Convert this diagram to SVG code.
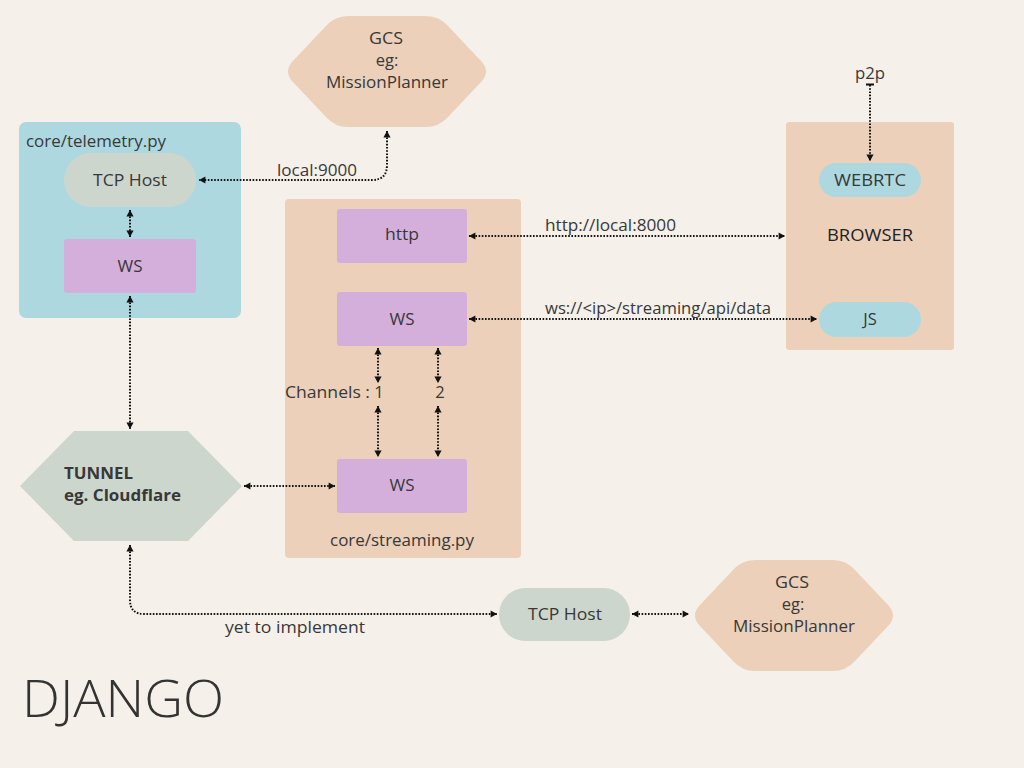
<svg xmlns="http://www.w3.org/2000/svg" width="1024" height="768" viewBox="0 0 1024 768">
<defs>
<marker id="ah" viewBox="0 0 10 10" refX="9" refY="5" markerWidth="8" markerHeight="8" markerUnits="userSpaceOnUse" orient="auto-start-reverse">
<path d="M1,0.5 L9,5 L1,9.5 Z" fill="#111"/>
</marker>
<path id="hexr" d="M348,16 L426,16 Q439,16 448,26 L482,62 Q490,71.5 482,81 L448,117 Q439,127 426,127 L348,127 Q335,127 326,117 L292,81 Q284,71.5 292,62 L326,26 Q335,16 348,16 Z"/>
</defs>
<style>
text{font-family:"Open Sans","Noto Sans","Liberation Sans",sans-serif;font-size:16.5px;fill:#383838}
.c{text-anchor:middle}
.blue{fill:#ADD8E0}
.peach{fill:#ECD0B9}
.purple{fill:#D4AFDB}
.grey{fill:#CDD6CC}
.ln{fill:none;stroke:#111;stroke-width:2;stroke-dasharray:1.6 1.6;marker-start:url(#ah);marker-end:url(#ah)}
</style>
<rect width="1024" height="768" fill="#F5F0EA"/>

<g id="telemetry-box">
<rect x="19" y="122" width="222" height="196" rx="7" class="blue"/>
<text x="26" y="147" textLength="140" lengthAdjust="spacingAndGlyphs">core/telemetry.py</text>
</g>
<g id="tcp-host-1">
<rect x="64" y="153" width="132" height="54" rx="27" class="grey"/>
<text x="130" y="186" class="c" textLength="74" lengthAdjust="spacingAndGlyphs">TCP Host</text>
</g>
<g id="ws-telemetry">
<rect x="64" y="239" width="132" height="54" rx="3" class="purple"/>
<text x="130" y="272" class="c" textLength="25" lengthAdjust="spacingAndGlyphs">WS</text>
</g>

<g id="gcs-top">
<use href="#hexr" class="peach"/>
<text x="386" y="44" class="c" textLength="34" lengthAdjust="spacingAndGlyphs">GCS</text>
<text x="387" y="66" class="c">eg:</text>
<text x="387" y="88" class="c" textLength="122" lengthAdjust="spacingAndGlyphs">MissionPlanner</text>
</g>

<g id="streaming-box">
<rect x="285" y="199" width="236" height="359" rx="4" class="peach"/>
<text x="402" y="546" class="c" textLength="144" lengthAdjust="spacingAndGlyphs">core/streaming.py</text>
</g>
<g id="http">
<rect x="337" y="209" width="130" height="54" rx="3" class="purple"/>
<text x="402" y="240" class="c" textLength="34" lengthAdjust="spacingAndGlyphs">http</text>
</g>
<g id="ws-stream-top">
<rect x="337" y="292" width="130" height="54" rx="3" class="purple"/>
<text x="402" y="325" class="c" textLength="25" lengthAdjust="spacingAndGlyphs">WS</text>
</g>
<g id="ws-stream-bottom">
<rect x="337" y="459" width="130" height="54" rx="3" class="purple"/>
<text x="402" y="491" class="c" textLength="25" lengthAdjust="spacingAndGlyphs">WS</text>
</g>
<g id="channels">
<text x="285" y="398" textLength="85" lengthAdjust="spacingAndGlyphs">Channels :</text>
<text x="379" y="398" class="c">1</text>
<text x="440" y="398" class="c">2</text>
</g>

<g id="browser-box">
<rect x="786" y="122" width="168" height="228" rx="3" class="peach"/>
<text x="870" y="241" class="c" textLength="86" lengthAdjust="spacingAndGlyphs" style="fill:#222">BROWSER</text>
</g>
<g id="webrtc">
<rect x="819" y="163" width="102" height="34" rx="17" class="blue"/>
<text x="870" y="186" class="c" textLength="72" lengthAdjust="spacingAndGlyphs">WEBRTC</text>
</g>
<g id="js">
<rect x="819" y="302" width="102" height="35" rx="17.5" class="blue"/>
<text x="870" y="325" class="c">JS</text>
</g>
<g id="p2p">
<text x="870" y="79" class="c" textLength="30" lengthAdjust="spacingAndGlyphs">p2p</text>
</g>

<g id="tunnel">
<polygon points="20,486 74,431 188,431 242,486 188,541 74,541" class="grey"/>
<text x="64" y="479" style="font-weight:bold" textLength="69" lengthAdjust="spacingAndGlyphs">TUNNEL</text>
<text x="64" y="501" style="font-weight:bold" textLength="117" lengthAdjust="spacingAndGlyphs">eg. Cloudflare</text>
</g>

<g id="tcp-host-2">
<rect x="499" y="588" width="131" height="53" rx="26.5" class="grey"/>
<text x="565" y="620" class="c" textLength="74" lengthAdjust="spacingAndGlyphs">TCP Host</text>
</g>
<g id="gcs-bottom">
<use href="#hexr" class="peach" transform="translate(407,544)"/>
<text x="792" y="588" class="c" textLength="34" lengthAdjust="spacingAndGlyphs">GCS</text>
<text x="793" y="610" class="c">eg:</text>
<text x="794" y="632" class="c" textLength="122" lengthAdjust="spacingAndGlyphs">MissionPlanner</text>
</g>

<g id="django-title">
<text x="22" y="717" style="font-size:51px;font-weight:300;fill:#333" textLength="202" lengthAdjust="spacingAndGlyphs">DJANGO</text>
</g>

<g id="connectors">
<path class="ln" d="M387,131 L387,165 Q387,180 372,180 L199,180"/>
<text x="277" y="176" textLength="80" lengthAdjust="spacingAndGlyphs">local:9000</text>
<path class="ln" d="M130,210 L130,237"/>
<path class="ln" d="M130,296 L130,429"/>
<path class="ln" d="M469,236 L785,236"/>
<text x="545" y="231" textLength="131" lengthAdjust="spacingAndGlyphs">http://local:8000</text>
<path class="ln" d="M469,319 L817,319"/>
<text x="545" y="314" textLength="226" lengthAdjust="spacingAndGlyphs">ws://&lt;ip&gt;/streaming/api/data</text>
<path class="ln" d="M378,348 L378,383"/>
<path class="ln" d="M438,348 L438,383"/>
<path class="ln" d="M378,406 L378,457"/>
<path class="ln" d="M438,406 L438,457"/>
<path class="ln" d="M244,486 L335,486"/>
<path class="ln" d="M130,545 L130,600 Q130,614 144,614 L497,614"/>
<text x="225" y="633" textLength="140" lengthAdjust="spacingAndGlyphs">yet to implement</text>
<path class="ln" d="M632,614 L689,614"/>
<path d="M866,84.5 L874,84.5" stroke="#111" stroke-width="2"/>
<path d="M870,85 L870,161" fill="none" stroke="#111" stroke-width="2" stroke-dasharray="1.6 1.6" marker-end="url(#ah)"/>
</g>
</svg>
